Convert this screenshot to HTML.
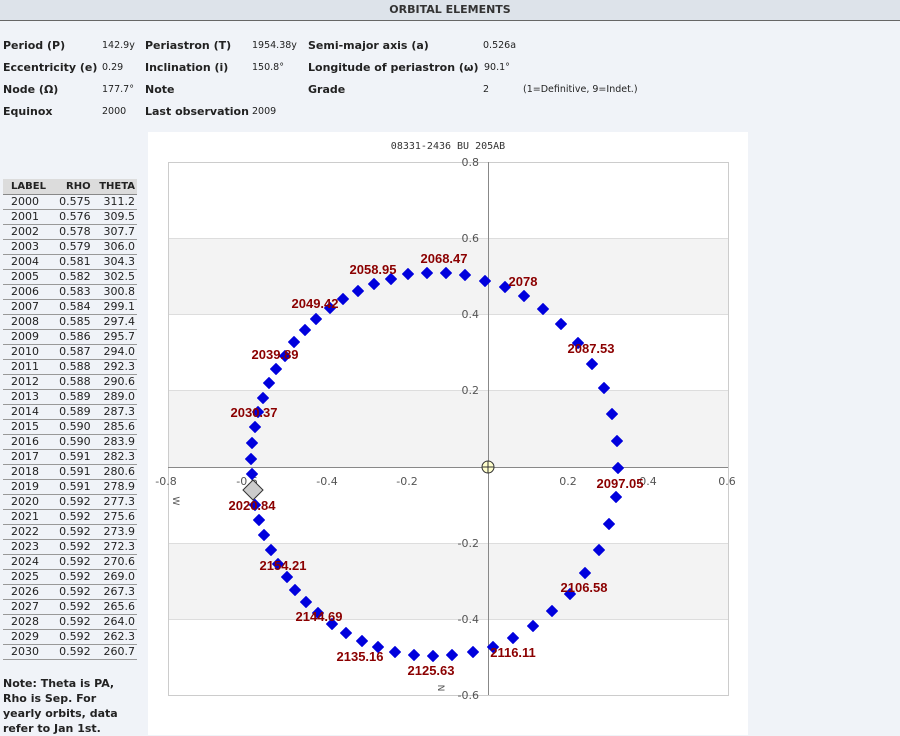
<!DOCTYPE html>
<html><head><meta charset="utf-8"><style>
body{margin:0;width:900px;height:735px;background:#f0f3f8;font-family:"DejaVu Sans","Liberation Sans",sans-serif;position:relative;overflow:hidden;color:#222}
.hdr{position:absolute;left:0;top:0;width:900px;height:20px;background:#dde3ea;border-bottom:1px solid #666;text-align:center;font-weight:bold;font-size:11px;line-height:20px;color:#333}
.t{position:absolute;font-size:11px;font-weight:bold;white-space:nowrap}
.v{position:absolute;font-size:9.5px;white-space:nowrap}
table{position:absolute;left:3px;top:179px;border-collapse:collapse;font-size:11px;width:134px}
th{background:#dcdcdc;font-size:10px;height:15px;padding:0 2px;border-bottom:1px solid #888;text-align:right}
td{height:14px;padding:0 2px;border-bottom:1px solid #999;text-align:right;line-height:14px}
td:first-child,th:first-child{text-align:left;padding-left:8px}
.note{position:absolute;left:3px;top:676px;font-size:11px;font-weight:bold;line-height:15px;width:128px}
</style></head><body>
<div class="hdr">ORBITAL ELEMENTS</div>
<div class="t" style="left:3px;top:39px">Period (P)</div><div class="v" style="left:102px;top:40px">142.9y</div>
<div class="t" style="left:145px;top:39px">Periastron (T)</div><div class="v" style="left:252px;top:40px">1954.38y</div>
<div class="t" style="left:308px;top:39px">Semi-major axis (a)</div><div class="v" style="left:483px;top:40px">0.526a</div>
<div class="t" style="left:3px;top:61px">Eccentricity (e)</div><div class="v" style="left:102px;top:62px">0.29</div>
<div class="t" style="left:145px;top:61px">Inclination (i)</div><div class="v" style="left:252px;top:62px">150.8°</div>
<div class="t" style="left:308px;top:61px">Longitude of periastron (ω)</div><div class="v" style="left:484px;top:62px">90.1°</div>
<div class="t" style="left:3px;top:83px">Node (Ω)</div><div class="v" style="left:102px;top:84px">177.7°</div>
<div class="t" style="left:145px;top:83px">Note</div>
<div class="t" style="left:308px;top:83px">Grade</div><div class="v" style="left:483px;top:84px">2</div><div class="v" style="left:523px;top:84px">(1=Definitive, 9=Indet.)</div>
<div class="t" style="left:3px;top:105px">Equinox</div><div class="v" style="left:102px;top:106px">2000</div>
<div class="t" style="left:145px;top:105px">Last observation</div><div class="v" style="left:252px;top:106px">2009</div>
<table><tr><th>LABEL</th><th>RHO</th><th>THETA</th></tr>
<tr><td>2000</td><td>0.575</td><td>311.2</td></tr><tr><td>2001</td><td>0.576</td><td>309.5</td></tr><tr><td>2002</td><td>0.578</td><td>307.7</td></tr><tr><td>2003</td><td>0.579</td><td>306.0</td></tr><tr><td>2004</td><td>0.581</td><td>304.3</td></tr><tr><td>2005</td><td>0.582</td><td>302.5</td></tr><tr><td>2006</td><td>0.583</td><td>300.8</td></tr><tr><td>2007</td><td>0.584</td><td>299.1</td></tr><tr><td>2008</td><td>0.585</td><td>297.4</td></tr><tr><td>2009</td><td>0.586</td><td>295.7</td></tr><tr><td>2010</td><td>0.587</td><td>294.0</td></tr><tr><td>2011</td><td>0.588</td><td>292.3</td></tr><tr><td>2012</td><td>0.588</td><td>290.6</td></tr><tr><td>2013</td><td>0.589</td><td>289.0</td></tr><tr><td>2014</td><td>0.589</td><td>287.3</td></tr><tr><td>2015</td><td>0.590</td><td>285.6</td></tr><tr><td>2016</td><td>0.590</td><td>283.9</td></tr><tr><td>2017</td><td>0.591</td><td>282.3</td></tr><tr><td>2018</td><td>0.591</td><td>280.6</td></tr><tr><td>2019</td><td>0.591</td><td>278.9</td></tr><tr><td>2020</td><td>0.592</td><td>277.3</td></tr><tr><td>2021</td><td>0.592</td><td>275.6</td></tr><tr><td>2022</td><td>0.592</td><td>273.9</td></tr><tr><td>2023</td><td>0.592</td><td>272.3</td></tr><tr><td>2024</td><td>0.592</td><td>270.6</td></tr><tr><td>2025</td><td>0.592</td><td>269.0</td></tr><tr><td>2026</td><td>0.592</td><td>267.3</td></tr><tr><td>2027</td><td>0.592</td><td>265.6</td></tr><tr><td>2028</td><td>0.592</td><td>264.0</td></tr><tr><td>2029</td><td>0.592</td><td>262.3</td></tr><tr><td>2030</td><td>0.592</td><td>260.7</td></tr>
</table>
<div class="note">Note: Theta is PA, Rho is Sep. For yearly orbits, data refer to Jan 1st.</div>
<svg style="position:absolute;left:0;top:0" width="900" height="735" xmlns="http://www.w3.org/2000/svg">
<rect x="148" y="132" width="600" height="603" fill="#fff"/>
<rect x="168" y="238" width="560" height="76" fill="#f3f3f3"/>
<rect x="168" y="390" width="560" height="77" fill="#f3f3f3"/>
<rect x="168" y="543" width="560" height="76" fill="#f3f3f3"/>
<g stroke="#ddd" stroke-width="1"><line x1="168" y1="238.5" x2="728" y2="238.5"/><line x1="168" y1="314.5" x2="728" y2="314.5"/><line x1="168" y1="390.5" x2="728" y2="390.5"/><line x1="168" y1="543.5" x2="728" y2="543.5"/><line x1="168" y1="619.5" x2="728" y2="619.5"/></g>
<rect x="168.5" y="162.5" width="560" height="533" fill="none" stroke="#ccc"/>
<line x1="488.5" y1="162" x2="488.5" y2="695" stroke="#888"/>
<line x1="168" y1="467.5" x2="728" y2="467.5" stroke="#888"/>
<text x="448" y="149" text-anchor="middle" font-family="DejaVu Sans Mono, Liberation Mono, monospace" font-size="10" fill="#333">08331-2436 BU  205AB</text>
<g font-family="DejaVu Sans, sans-serif" font-size="11" fill="#555">
<text x="479" y="166" text-anchor="end">0.8</text><text x="479" y="242" text-anchor="end">0.6</text><text x="479" y="318" text-anchor="end">0.4</text><text x="479" y="394" text-anchor="end">0.2</text><text x="479" y="547" text-anchor="end">-0.2</text><text x="479" y="623" text-anchor="end">-0.4</text><text x="479" y="699" text-anchor="end">-0.6</text>
<text x="166" y="485" text-anchor="middle">-0.8</text><text x="247" y="485" text-anchor="middle">-0.6</text><text x="327" y="485" text-anchor="middle">-0.4</text><text x="407" y="485" text-anchor="middle">-0.2</text><text x="568" y="485" text-anchor="middle">0.2</text><text x="648" y="485" text-anchor="middle">0.4</text><text x="727" y="485" text-anchor="middle">0.6</text>
<text x="176" y="504" text-anchor="middle" font-size="9" transform="rotate(90 176 501)">W</text>
<text x="441" y="691" text-anchor="middle" font-size="9" transform="rotate(90 441 688)">N</text>
</g>
<g fill="#0000dd" id="pts"></g>
<polygon points="253,480 263,490 253,500 243,490" fill="#ccc" stroke="#333"/>
<circle cx="488" cy="467" r="6" fill="#ffffcc" stroke="#333"/>
<line x1="482" y1="467" x2="494" y2="467" stroke="#333"/><line x1="488" y1="461" x2="488" y2="473" stroke="#333"/>
<g font-family="Liberation Sans, sans-serif" font-weight="bold" font-size="13" fill="#8b0000" text-anchor="middle">
<text x="373" y="274">2058.95</text><text x="444" y="263">2068.47</text><text x="523" y="286">2078</text><text x="591" y="353">2087.53</text><text x="620" y="488">2097.05</text><text x="584" y="592">2106.58</text><text x="513" y="657">2116.11</text><text x="431" y="675">2125.63</text><text x="360" y="661">2135.16</text><text x="319" y="621">2144.69</text><text x="283" y="570">2154.21</text><text x="252" y="510">2020.84</text><text x="254" y="417">2030.37</text><text x="275" y="359">2039.89</text><text x="315" y="308">2049.42</text>
</g>
</svg>
<script>
var p=[[485,281],[505,287],[524,296],[543,309],[561,324],[578,343],[592,364],[604,388],[612,414],[617,441],[618,468],[616,497],[609,524],[599,550],[585,573],[570,594],[552,611],[533,626],[513,638],[493,647],[473,652],[452,655],[433,656],[414,655],[395,652],[378,647],[362,641],[346,633],[332,624],[318,613],[306,602],[295,590],[287,577],[278,564],[271,550],[264,535],[259,520],[255,505],[252,474],[251,459],[252,443],[255,427],[258,412],[263,398],[269,383],[276,369],[285,356],[294,342],[305,330],[316,319],[330,308],[343,299],[358,291],[374,284],[391,279],[408,274],[427,273],[446,273],[465,275]];
var g=document.getElementById('pts'),s='';
p.forEach(function(q){var x=q[0],y=q[1];s+='<polygon points="'+x+','+(y-5.5)+' '+(x+5.5)+','+y+' '+x+','+(y+5.5)+' '+(x-5.5)+','+y+'" stroke="#0000dd" stroke-width="1" stroke-linejoin="round"/>';});
g.innerHTML=s;
</script>
</body></html>
